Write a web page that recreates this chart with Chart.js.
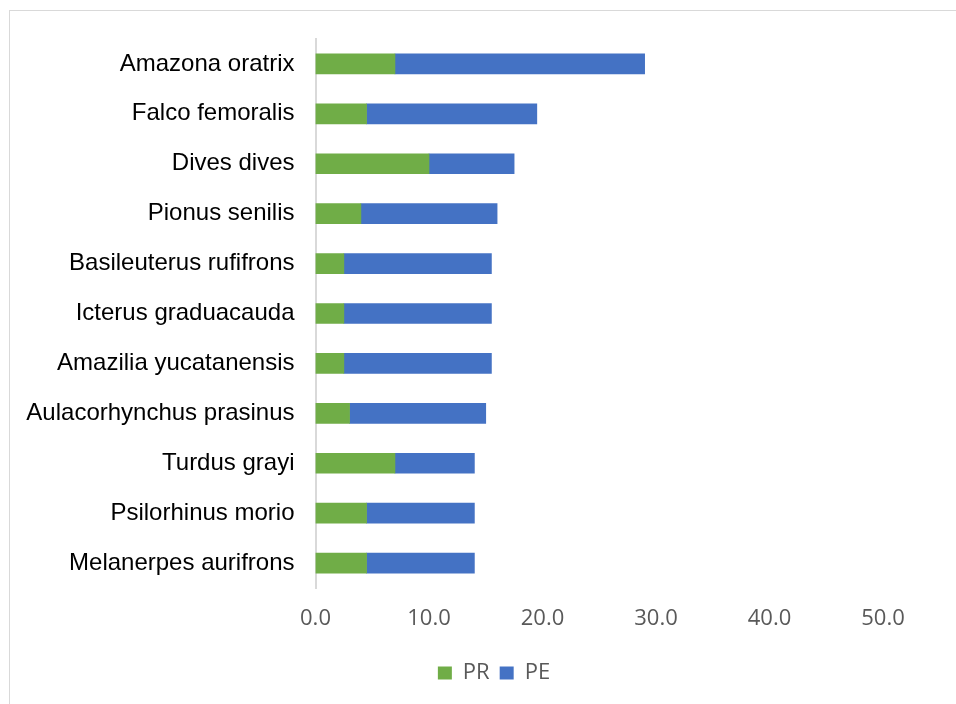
<!DOCTYPE html>
<html>
<head>
<meta charset="utf-8">
<title>PR / PE</title>
<script src="https://cdn.jsdelivr.net/npm/chart.js@4/dist/chart.umd.min.js"></script>
<style>
    html, body {
        margin: 0;
        padding: 0;
        background: #FFFFFF;
        overflow: hidden;
        width: 956px;
        height: 704px;
    }
    .chart-box {
        position: absolute;
        left: 9px;
        top: 10px;
        width: 968px;
        height: 720px;
        border: 1px solid #D9D9D9;
        background: #FFFFFF;
    }
</style>
</head>
<body>
<div class="chart-box">
    <canvas id="speciesChart"></canvas>
</div>
<script>
// Species (top to bottom)
const species = [
    'Amazona oratrix',
    'Falco femoralis',
    'Dives dives',
    'Pionus senilis',
    'Basileuterus rufifrons',
    'Icterus graduacauda',
    'Amazilia yucatanensis',
    'Aulacorhynchus prasinus',
    'Turdus grayi',
    'Psilorhinus morio',
    'Melanerpes aurifrons'
];

// Stacked series
const prValues = [7.0, 4.5, 10.0, 4.0, 2.5, 2.5, 2.5, 3.0, 7.0, 4.5, 4.5];
const peValues = [22.0, 15.0, 7.5, 12.0, 13.0, 13.0, 13.0, 12.0, 7.0, 9.5, 9.5];

// Value axis
const axisMin = 0;
const axisMax = 50;
const axisStep = 10;

const tickFont = { family: '"Open Sans", sans-serif', size: 22 };
const labelFont = { family: '"Liberation Sans", Arial, sans-serif', size: 24 };

// Right padding is only for the plot; the legend stays centred on the whole box
const fullWidthLegend = {
    id: 'fullWidthLegend',
    afterLayout(chart) {
        if (chart.legend) {
            chart.legend.left = 0;
            chart.legend.right = chart.width;
            chart.legend.width = chart.width;
        }
    }
};

const ctx = document.getElementById('speciesChart');

const speciesChart = new Chart(ctx, {
    type: 'bar',
    data: {
        labels: species,
        datasets: [{
            label: 'PR',
            data: prValues,
            backgroundColor: '#70AD47',
            borderWidth: 0,
            barThickness: 20
        }, {
            label: 'PE',
            data: peValues,
            backgroundColor: '#4472C4',
            borderWidth: 0,
            barThickness: 20
        }]
    },
    options: {
        indexAxis: 'y',
        responsive: true,
        maintainAspectRatio: false,
        animation: false,
        layout: {
            padding: { top: 28, right: 95, bottom: 37, left: 0 }
        },
        plugins: {
            legend: {
                position: 'bottom',
                labels: {
                    boxWidth: 14,
                    boxHeight: 13,
                    padding: 10,
                    color: '#595959',
                    font: { family: '"Open Sans", sans-serif', size: 22 }
                }
            },
            tooltip: {
                enabled: false
            }
        },
        scales: {
            x: {
                stacked: true,
                min: axisMin,
                max: axisMax,
                grid: {
                    display: false
                },
                border: {
                    display: false
                },
                ticks: {
                    stepSize: axisStep,
                    color: '#595959',
                    font: tickFont,
                    padding: 10,
                    maxRotation: 0,
                    callback: function(value) {
                        return Number(value).toFixed(1);
                    }
                },
                afterFit: function(scale) {
                    scale.height = 64;
                }
            },
            y: {
                stacked: true,
                grid: {
                    display: false,
                    drawTicks: false
                },
                border: {
                    display: true,
                    color: '#D9D9D9',
                    width: 2
                },
                ticks: {
                    color: '#000000',
                    font: labelFont,
                    padding: 21,
                    autoSkip: false
                },
                afterFit: function(scale) {
                    scale.width = 305.5;
                    // categories are centred in their bands, no label overhang
                    scale.paddingTop = 0;
                    scale.paddingBottom = 0;
                }
            }
        }
    },
    plugins: [fullWidthLegend]
});
</script>
</body>
</html>
